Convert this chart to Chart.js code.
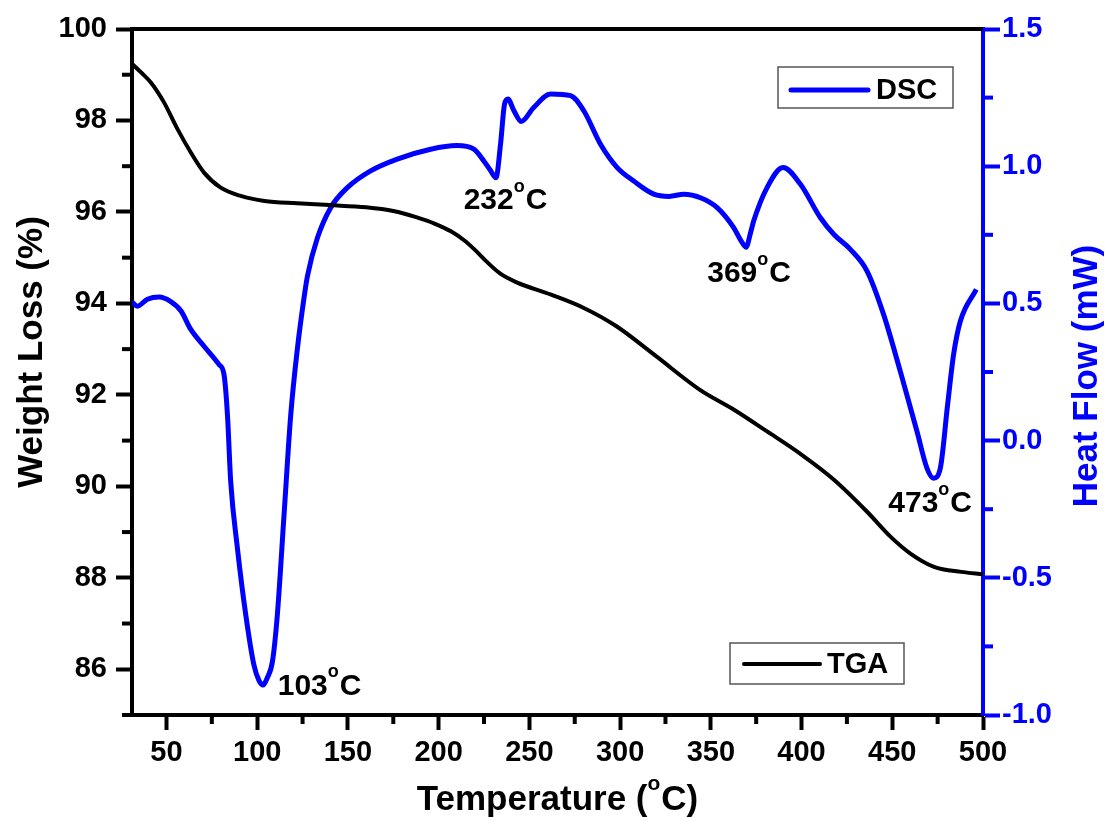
<!DOCTYPE html>
<html><head><meta charset="utf-8">
<script src="https://cdn.jsdelivr.net/npm/chart.js@4.4.1/dist/chart.umd.min.js"></script>
<style>html,body{margin:0;padding:0;background:#fff;}#wrap{width:1107px;height:821px;}</style>
</head><body><div id="wrap"><canvas id="c" width="1107" height="821"></canvas></div>
<script>
// ---- data ----
const tgaTemp = [31.3, 36, 41.4, 48.7, 56.1, 63.4, 70.7, 79.9, 90.9, 104, 122, 140, 160, 175, 188, 198, 207, 214, 220, 226, 234, 243, 262, 280, 298, 320, 344, 363, 381, 399, 418, 436, 449, 460, 473, 488, 500];
const tgaWeight = [99.23, 99.05, 98.83, 98.39, 97.81, 97.30, 96.86, 96.53, 96.35, 96.24, 96.19, 96.15, 96.10, 96.02, 95.88, 95.74, 95.57, 95.38, 95.17, 94.93, 94.65, 94.46, 94.19, 93.90, 93.50, 92.84, 92.11, 91.67, 91.20, 90.72, 90.14, 89.45, 88.90, 88.53, 88.24, 88.13, 88.08];
const dscTemp = [31, 34, 39.5, 46, 52, 58, 63.4, 70.7, 79, 81.7, 83.6, 85.4, 89.1, 93.7, 98.2, 101, 103.2, 105.5, 108.4, 111.1, 114.8, 118.5, 122.2, 125.8, 127.7, 133.2, 140.5, 149.7, 162.5, 177.2, 195.6, 210, 219.4, 224.9, 228.5, 231.6, 234.1, 236.3, 238.2, 241.5, 245.5, 252.4, 261.7, 272.7, 280, 289.2, 298.4, 307.5, 318.6, 327, 335.1, 344.3, 353.5, 362.6, 366.5, 369.4, 372, 373.6, 381, 389.8, 399.4, 410.4, 418, 426.9, 436.1, 445.2, 454.4, 463.6, 469.1, 472.8, 476.5, 480.5, 483.8, 487.5, 496.3];
const dscHeat = [0.505, 0.49, 0.515, 0.523, 0.508, 0.472, 0.405, 0.344, 0.277, 0.241, 0.095, -0.149, -0.392, -0.635, -0.818, -0.875, -0.891, -0.865, -0.805, -0.635, -0.27, 0.095, 0.338, 0.52, 0.6, 0.739, 0.849, 0.922, 0.983, 1.026, 1.062, 1.075, 1.062, 1.019, 0.985, 0.958, 1.08, 1.226, 1.245, 1.202, 1.163, 1.214, 1.263, 1.257, 1.202, 1.08, 0.995, 0.946, 0.898, 0.89, 0.898, 0.885, 0.849, 0.776, 0.73, 0.705, 0.76, 0.8, 0.922, 0.995, 0.934, 0.812, 0.75, 0.697, 0.618, 0.46, 0.253, 0.034, -0.1, -0.137, -0.1, 0.131, 0.314, 0.435, 0.551];
const xTicks = [50, 100, 150, 200, 250, 300, 350, 400, 450, 500];
const xMinor = [75, 125, 175, 225, 275, 325, 375, 425, 475];
const leftTicks = [86, 88, 90, 92, 94, 96, 98, 100];
const leftMinor = [85, 87, 89, 91, 93, 95, 97, 99];
const rightTicks = [-1.0, -0.5, 0.0, 0.5, 1.0, 1.5];
const rightMinor = [-0.75, -0.25, 0.25, 0.75, 1.25];
const peakText = ['103', '232', '369', '473'];
const peakLabelT = [111.3, 213.8, 348.0, 447.8];
const peakLabelH = [-0.926, 0.844, 0.578, -0.262];

const BLUE = '#0000ff';
const FAM = "'Liberation Sans', Arial, Helvetica, sans-serif";
Chart.defaults.font.family = FAM;
Chart.defaults.font.weight = 'bold';

function supText(ctx, x, y, parts, size, align) {
  const big = 'bold ' + size + 'px ' + FAM;
  const small = 'bold ' + Math.round(size * 0.6) + 'px ' + FAM;
  ctx.font = big; const w1 = ctx.measureText(parts[0]).width; const w3 = ctx.measureText(parts[2]).width;
  ctx.font = small; const w2 = ctx.measureText(parts[1]).width;
  const total = w1 + w2 + 1 + w3;
  let sx = x;
  if (align === 'center') sx = x - total / 2;
  ctx.textAlign = 'left'; ctx.textBaseline = 'alphabetic';
  ctx.font = big; ctx.fillText(parts[0], sx, y);
  ctx.font = small; ctx.fillText(parts[1], sx + w1, y - size * 0.58);
  ctx.font = big; ctx.fillText(parts[2], sx + w1 + w2 + 1, y);
}

const decor = {
  id: 'decor',
  afterDraw(chart) {
    const ctx = chart.ctx, a = chart.chartArea;
    const xs = chart.scales.x, yl = chart.scales.yL, yr = chart.scales.yR;
    ctx.save();
    // top frame and bottom axis extension
    ctx.strokeStyle = '#000'; ctx.lineWidth = 4;
    ctx.beginPath(); ctx.moveTo(a.left - 2, a.top); ctx.lineTo(a.right, a.top); ctx.stroke();
    ctx.beginPath(); ctx.moveTo(a.left - 7, a.bottom); ctx.lineTo(a.left, a.bottom); ctx.stroke();
    // minor ticks
    ctx.lineWidth = 4; ctx.lineCap = 'butt';
    ctx.strokeStyle = '#000';
    leftMinor.forEach(v => { const y = yl.getPixelForValue(v); ctx.beginPath(); ctx.moveTo(a.left, y); ctx.lineTo(a.left - 10, y); ctx.stroke(); });
    xMinor.forEach(v => { const x = xs.getPixelForValue(v); ctx.beginPath(); ctx.moveTo(x, a.bottom); ctx.lineTo(x, a.bottom + 9); ctx.stroke(); });
    ctx.strokeStyle = BLUE;
    rightMinor.forEach(v => { const y = yr.getPixelForValue(v); ctx.beginPath(); ctx.moveTo(a.right, y); ctx.lineTo(a.right + 10, y); ctx.stroke(); });
    // axis titles
    ctx.fillStyle = '#000';
    supText(ctx, (a.left + a.right) / 2, 810, ['Temperature (', 'o', 'C)'], 35, 'center');
    ctx.save(); ctx.translate(42, 352); ctx.rotate(-Math.PI / 2);
    ctx.font = 'bold 35px ' + FAM; ctx.textAlign = 'center'; ctx.textBaseline = 'alphabetic';
    ctx.fillText('Weight Loss (%)', 0, 0); ctx.restore();
    ctx.save(); ctx.translate(1097, 376); ctx.rotate(-Math.PI / 2);
    ctx.fillStyle = BLUE; ctx.font = 'bold 35px ' + FAM; ctx.textAlign = 'center'; ctx.textBaseline = 'alphabetic';
    ctx.fillText('Heat Flow (mW)', 0, 0); ctx.restore();
    // peak labels
    ctx.fillStyle = '#000';
    peakText.forEach((t, i) => {
      supText(ctx, xs.getPixelForValue(peakLabelT[i]), yr.getPixelForValue(peakLabelH[i]), [t, 'o', 'C'], 30, 'left');
    });
    // legends
    function legendBox(x0, y0, x1, y1, lx0, lx1, ly, color, lw, text, tx) {
      ctx.fillStyle = '#fff'; ctx.fillRect(x0, y0, x1 - x0, y1 - y0);
      ctx.strokeStyle = '#555'; ctx.lineWidth = 1.5; ctx.strokeRect(x0, y0, x1 - x0, y1 - y0);
      ctx.strokeStyle = color; ctx.lineWidth = lw; ctx.lineCap = 'round';
      ctx.beginPath(); ctx.moveTo(lx0, ly); ctx.lineTo(lx1, ly); ctx.stroke();
      ctx.lineCap = 'butt';
      ctx.fillStyle = '#000'; ctx.font = 'bold 29px ' + FAM; ctx.textAlign = 'left'; ctx.textBaseline = 'middle';
      ctx.fillText(text, tx, ly + 1);
    }
    legendBox(778, 67, 953, 108, 791, 868, 90, BLUE, 5, 'DSC', 876);
    legendBox(730, 643, 904, 684, 744, 820, 664, '#000', 4, 'TGA', 827);
    ctx.restore();
  }
};

new Chart(document.getElementById('c'), {
  type: 'line',
  data: {
    datasets: [
      { label: 'TGA', yAxisID: 'yL', data: tgaTemp.map((t, i) => ({ x: t, y: tgaWeight[i] })),
        borderColor: '#000', borderWidth: 4, pointRadius: 0, cubicInterpolationMode: 'monotone', fill: false },
      { label: 'DSC', yAxisID: 'yR', data: dscTemp.map((t, i) => ({ x: t, y: dscHeat[i] })),
        borderColor: BLUE, borderWidth: 5, pointRadius: 0, cubicInterpolationMode: 'monotone', fill: false }
    ]
  },
  options: {
    responsive: false, animation: false, devicePixelRatio: 1,
    layout: { padding: { top: 29, left: 0, right: 0, bottom: 0 } },
    plugins: { legend: { display: false }, tooltip: { enabled: false } },
    scales: {
      x: {
        type: 'linear', position: 'bottom', min: 31, max: 500,
        afterBuildTicks: s => { s.ticks = xTicks.map(v => ({ value: v })); },
        afterFit: s => { s.height = 106; },
        grid: { drawOnChartArea: false, drawTicks: true, tickLength: 15, tickWidth: 4, tickColor: '#000' },
        border: { display: true, color: '#000', width: 4 },
        ticks: { color: '#000', font: { size: 29, weight: 'bold' }, padding: 6, maxRotation: 0, autoSkip: false }
      },
      yL: {
        type: 'linear', position: 'left', min: 85, max: 100,
        afterBuildTicks: s => { s.ticks = leftTicks.map(v => ({ value: v })); },
        afterFit: s => { s.width = 132; },
        grid: { drawOnChartArea: false, drawTicks: true, tickLength: 16, tickWidth: 4, tickColor: '#000' },
        border: { display: true, color: '#000', width: 4 },
        ticks: { color: '#000', font: { size: 29, weight: 'bold' }, padding: 9, autoSkip: false }
      },
      yR: {
        type: 'linear', position: 'right', min: -1.0, max: 1.5,
        afterBuildTicks: s => { s.ticks = rightTicks.map(v => ({ value: v })); },
        afterFit: s => { s.width = 124; },
        grid: { drawOnChartArea: false, drawTicks: true, tickLength: 17, tickWidth: 4, tickColor: BLUE },
        border: { display: true, color: BLUE, width: 4 },
        ticks: { color: BLUE, font: { size: 29, weight: 'bold' }, padding: 2, autoSkip: false,
          callback: v => Number(v).toFixed(1) }
      }
    }
  },
  plugins: [decor]
});
</script></body></html>
